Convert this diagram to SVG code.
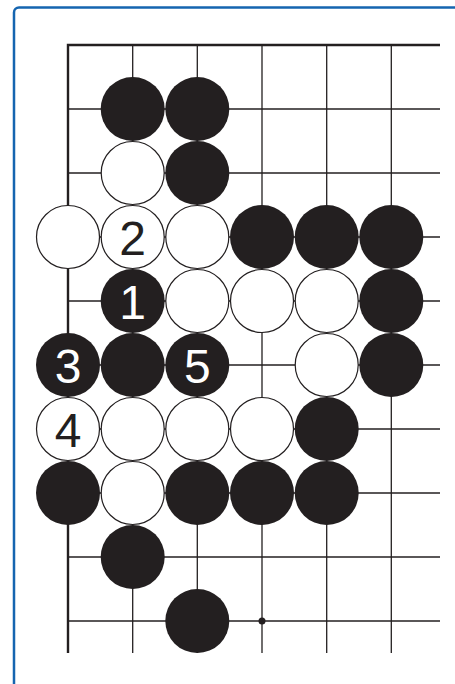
<svg xmlns="http://www.w3.org/2000/svg" width="455" height="684" viewBox="0 0 455 684">
<style>
.g{stroke:#231f20;stroke-width:1.3;fill:none}
.e{stroke:#231f20;stroke-width:2.4;fill:none}
.b{fill:#231f20}
.w{fill:#fff;stroke:#231f20;stroke-width:1.2}
.t{font-family:"Liberation Sans",Arial,sans-serif;font-size:48px;text-anchor:middle}
.tb{fill:#fff}
.tw{fill:#231f20}
</style>
<rect x="14" y="7.5" width="520" height="720" rx="5" fill="#fff" stroke="#1565b0" stroke-width="2.5"/>
<g id="grid">
<g class="g">
<line x1="68" y1="109" x2="440" y2="109"/>
<line x1="68" y1="173" x2="440" y2="173"/>
<line x1="68" y1="237" x2="440" y2="237"/>
<line x1="68" y1="301" x2="440" y2="301"/>
<line x1="68" y1="365" x2="440" y2="365"/>
<line x1="68" y1="429" x2="440" y2="429"/>
<line x1="68" y1="493" x2="440" y2="493"/>
<line x1="68" y1="557" x2="440" y2="557"/>
<line x1="68" y1="621" x2="440" y2="621"/>
<line x1="132.7" y1="45" x2="132.7" y2="653"/>
<line x1="197.3" y1="45" x2="197.3" y2="653"/>
<line x1="262" y1="45" x2="262" y2="653"/>
<line x1="326.7" y1="45" x2="326.7" y2="653"/>
<line x1="391.3" y1="45" x2="391.3" y2="653"/>
</g>
<path class="e" d="M68,653 V45 H440"/>
<circle cx="262" cy="621" r="3.5" class="b"/>
</g>
<g id="stones">
<g id="r1"><circle cx="132.7" cy="109" r="32" class="b"/><circle cx="197.3" cy="109" r="32" class="b"/></g>
<g id="r2"><circle cx="132.7" cy="173" r="31.5" class="w"/><circle cx="197.3" cy="173" r="32" class="b"/></g>
<g id="r3">
<circle cx="68" cy="237" r="31.5" class="w"/>
<g id="m2"><circle cx="132.7" cy="237" r="31.5" class="w"/><text x="132.7" y="254.5" class="t tw">2</text></g>
<circle cx="197.3" cy="237" r="31.5" class="w"/>
<circle cx="262" cy="237" r="32" class="b"/>
<circle cx="326.7" cy="237" r="32" class="b"/>
<circle cx="391.3" cy="237" r="32" class="b"/>
</g>
<g id="r4">
<g id="m1"><circle cx="132.7" cy="301" r="32" class="b"/><text x="132.7" y="318.5" class="t tb">1</text></g>
<circle cx="197.3" cy="301" r="31.5" class="w"/>
<circle cx="262" cy="301" r="31.5" class="w"/>
<circle cx="326.7" cy="301" r="31.5" class="w"/>
<circle cx="391.3" cy="301" r="32" class="b"/>
</g>
<g id="r5">
<g id="m3"><circle cx="68" cy="365" r="32" class="b"/><text x="68" y="382.5" class="t tb">3</text></g>
<circle cx="132.7" cy="365" r="32" class="b"/>
<g id="m5"><circle cx="197.3" cy="365" r="32" class="b"/><text x="197.3" y="382.5" class="t tb">5</text></g>
<circle cx="326.7" cy="365" r="31.5" class="w"/>
<circle cx="391.3" cy="365" r="32" class="b"/>
</g>
<g id="r6">
<g id="m4"><circle cx="68" cy="429" r="31.5" class="w"/><text x="68" y="446.5" class="t tw">4</text></g>
<circle cx="132.7" cy="429" r="31.5" class="w"/>
<circle cx="197.3" cy="429" r="31.5" class="w"/>
<circle cx="262" cy="429" r="31.5" class="w"/>
<circle cx="326.7" cy="429" r="32" class="b"/>
</g>
<g id="r7">
<circle cx="68" cy="493" r="32" class="b"/>
<circle cx="132.7" cy="493" r="31.5" class="w"/>
<circle cx="197.3" cy="493" r="32" class="b"/>
<circle cx="262" cy="493" r="32" class="b"/>
<circle cx="326.7" cy="493" r="32" class="b"/>
</g>
<g id="r8"><circle cx="132.7" cy="557" r="32" class="b"/></g>
<g id="r9"><circle cx="197.3" cy="621" r="32" class="b"/></g>
</g>
</svg>
